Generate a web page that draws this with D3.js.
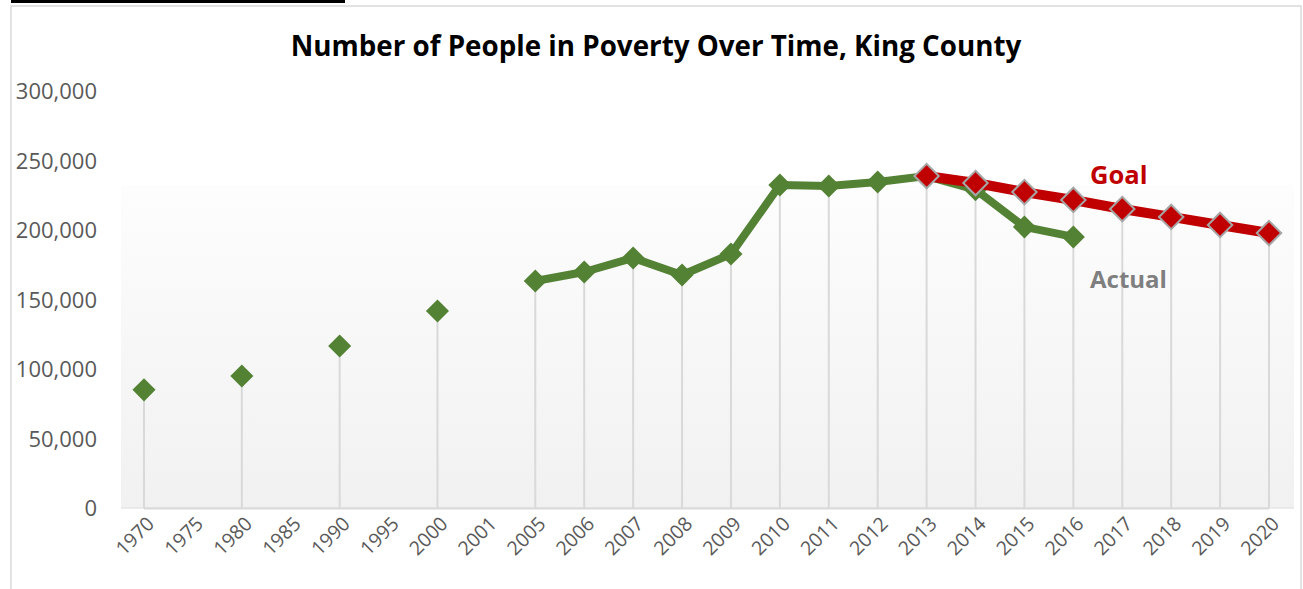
<!DOCTYPE html>
<html lang="en">
<head>
  <meta charset="UTF-8">
  <title>Number of People in Poverty Over Time, King County</title>
  <script src="https://d3js.org/d3.v7.min.js"></script>
  <style>
    body {
      margin: 0;
      padding: 0;
      background-color: #fff;
      font-family: "Open Sans", "Noto Sans", Arial, sans-serif;
    }
    svg { display: block; }
  </style>
</head>
<body>
  <svg id="chart"></svg>
  <script>
const years = ["1970", "1975", "1980", "1985", "1990", "1995", "2000", "2001",
  "2005", "2006", "2007", "2008", "2009", "2010", "2011", "2012",
  "2013", "2014", "2015", "2016", "2017", "2018", "2019", "2020"];

// null = no value for that year
const actual = [85000, null, 95000, null, 116500, null, 141700, null,
  163300, 169800, 179900, 167600, 182700, 232400, 231700, 234500,
  238800, 229000, 202200, 195000, null, null, null, null];

const goal = [null, null, null, null, null, null, null, null,
  null, null, null, null, null, null, null, null,
  238800, 233800, 227300, 221600, 215100, 209400, 203600, 197800];

const yTicks = [0, 50000, 100000, 150000, 200000, 250000, 300000];

const width = 1303;
const height = 589;

const svg = d3.select("#chart")
  .attr("width", width)
  .attr("height", height);

// frame round the chart + the bit of heading line cut at the top
svg.append("rect")
  .attr("x", 11).attr("y", 6)
  .attr("width", 1290).attr("height", 600)
  .attr("fill", "#fff")
  .attr("stroke", "#d9d9d9")
  .attr("stroke-width", 1.5);
svg.append("rect")
  .attr("x", 11).attr("y", 0)
  .attr("width", 334).attr("height", 3)
  .attr("fill", "#000");

const x = d3.scalePoint()
  .domain(years)
  .range([144, 1269]);

const y = d3.scaleLinear()
  .domain([0, 300000])
  .range([508, 91]);

// plot area background, white at top fading to light gray
const defs = svg.append("defs");
const grad = defs.append("linearGradient")
  .attr("id", "bg")
  .attr("x1", 0).attr("y1", 0).attr("x2", 0).attr("y2", 1);
grad.append("stop").attr("offset", "0%").attr("stop-color", "#fdfdfd");
grad.append("stop").attr("offset", "100%").attr("stop-color", "#f1f1f1");

svg.append("rect")
  .attr("x", 121).attr("y", 185)
  .attr("width", 1294 - 121).attr("height", y(0) - 185)
  .attr("fill", "url(#bg)");

svg.append("line")
  .attr("x1", 121).attr("x2", 1294)
  .attr("y1", y(0)).attr("y2", y(0))
  .attr("stroke", "#e4e4e4").attr("stroke-width", 1.5);
svg.append("line")
  .attr("x1", x(years[0])).attr("x2", x(years[years.length - 1]))
  .attr("y1", y(0) + 0.5).attr("y2", y(0) + 0.5)
  .attr("stroke", "#d9d9d9").attr("stroke-width", 2);

// title
const title = svg.append("text")
  .attr("x", 656).attr("y", 56)
  .attr("text-anchor", "middle")
  .attr("font-weight", "bold")
  .attr("font-size", 24)
  .attr("fill", "#000")
  .text("Number of People in Poverty Over Time, King County");
const tw = title.node().getComputedTextLength();
title.attr("font-size", 24 * 731 / tw);

// y axis labels
const yAxis = d3.axisLeft(y)
  .tickValues(yTicks)
  .tickFormat(d3.format(","))
  .tickSize(0)
  .tickPadding(0);
const yg = svg.append("g")
  .attr("transform", "translate(97,0)")
  .call(yAxis);
yg.select(".domain").remove();
yg.selectAll("text")
  .attr("font-family", "\"Open Sans\", sans-serif")
  .attr("font-size", 22)
  .attr("fill", "#595959")
  .attr("dy", "0.35em");

// x axis labels, rotated
const xAxis = d3.axisBottom(x).tickSize(0).tickPadding(0);
const xg = svg.append("g")
  .attr("transform", `translate(0,${y(0)})`)
  .call(xAxis);
xg.select(".domain").remove();
xg.selectAll("text")
  .attr("font-family", "\"Open Sans\", sans-serif")
  .attr("font-size", 19.5)
  .attr("fill", "#595959")
  .attr("text-anchor", "end")
  .attr("dy", null)
  .attr("transform", "translate(11,17) rotate(-45)");

// drop lines from the highest point of each year
const tops = years.map((yr, i) => {
  const vals = [actual[i], goal[i]].filter(v => v != null);
  return vals.length ? { yr, v: d3.max(vals) } : null;
}).filter(d => d);

svg.append("g")
  .selectAll("line")
  .data(tops)
  .join("line")
  .attr("x1", d => x(d.yr)).attr("x2", d => x(d.yr))
  .attr("y1", d => y(d.v)).attr("y2", y(0))
  .attr("stroke", "#d9d9d9")
  .attr("stroke-width", 2);

const actualPts = years.map((yr, i) => ({ yr, v: actual[i] }));
const goalPts = years.map((yr, i) => ({ yr, v: goal[i] }));

const line = d3.line()
  .defined(d => d.v != null)
  .x(d => x(d.yr))
  .y(d => y(d.v));

const diamond = d3.symbol().type(d3.symbolDiamond2);

// actual series
svg.append("path")
  .datum(actualPts)
  .attr("d", line)
  .attr("fill", "none")
  .attr("stroke", "#548235")
  .attr("stroke-width", 8)
  .attr("stroke-linejoin", "round");

svg.append("g")
  .selectAll("path")
  .data(actualPts.filter(d => d.v != null))
  .join("path")
  .attr("transform", d => `translate(${x(d.yr)},${y(d.v)})`)
  .attr("d", diamond.size(340))
  .attr("fill", "#548235");

// goal series
svg.append("path")
  .datum(goalPts)
  .attr("d", line)
  .attr("fill", "none")
  .attr("stroke", "#c00000")
  .attr("stroke-width", 10)
  .attr("stroke-linejoin", "round");

svg.append("g")
  .selectAll("path")
  .data(goalPts.filter(d => d.v != null))
  .join("path")
  .attr("transform", d => `translate(${x(d.yr)},${y(d.v)})`)
  .attr("d", diamond.size(380))
  .attr("fill", "#c00000")
  .attr("stroke", "#a6a6a6")
  .attr("stroke-width", 2);

// series labels
svg.append("text")
  .attr("x", 1090).attr("y", 184)
  .attr("font-weight", "bold")
  .attr("font-size", 25.5)
  .attr("fill", "#c00000")
  .text("Goal");

svg.append("text")
  .attr("x", 1090).attr("y", 288)
  .attr("font-weight", "bold")
  .attr("font-size", 24)
  .attr("fill", "#7f7f7f")
  .text("Actual");
  </script>
</body>
</html>
